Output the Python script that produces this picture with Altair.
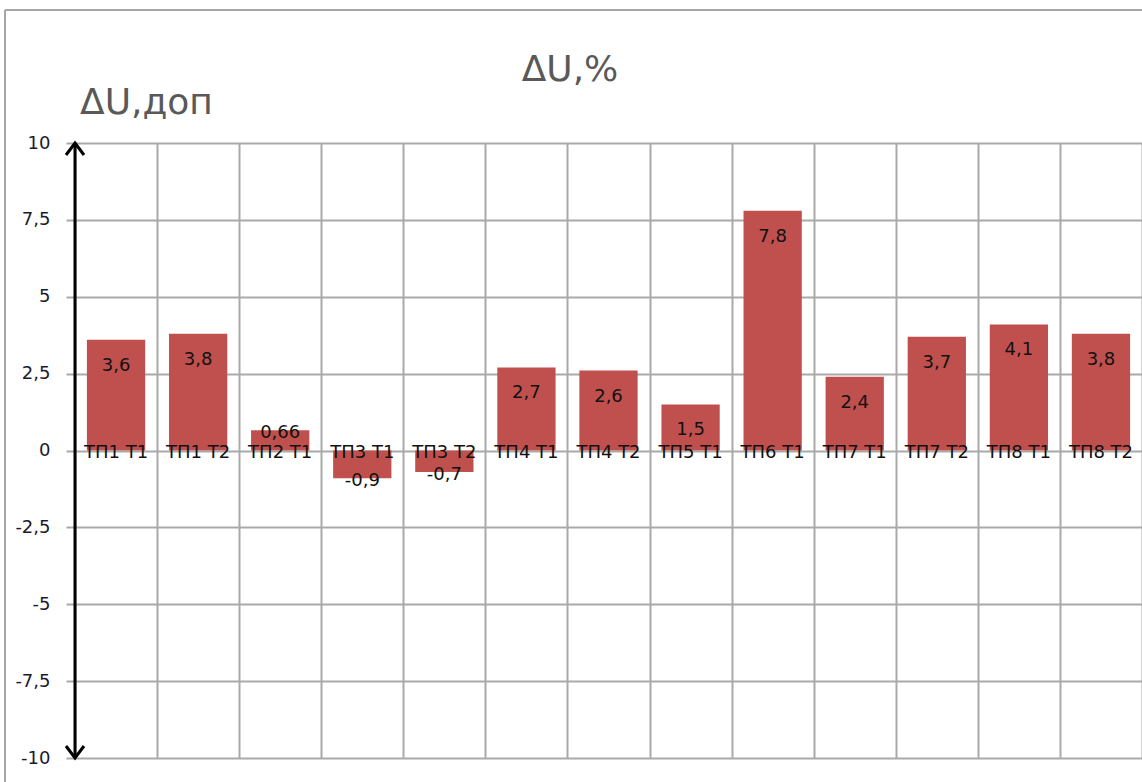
import altair as alt
import pandas as pd

# Voltage deviation per transformer, %
categories = ["ТП1 Т1", "ТП1 Т2", "ТП2 Т1", "ТП3 Т1", "ТП3 Т2", "ТП4 Т1", "ТП4 Т2",
              "ТП5 Т1", "ТП6 Т1", "ТП7 Т1", "ТП7 Т2", "ТП8 Т1", "ТП8 Т2"]
values = [3.6, 3.8, 0.66, -0.9, -0.7, 2.7, 2.6, 1.5, 7.8, 2.4, 3.7, 4.1, 3.8]
value_labels = ["3,6", "3,8", "0,66", "-0,9", "-0,7", "2,7", "2,6", "1,5", "7,8",
                "2,4", "3,7", "4,1", "3,8"]
y_ticks = [-10, -7.5, -5, -2.5, 0, 2.5, 5, 7.5, 10]
arrow_ends = [-10, 10]

W, H = 1067, 615
FONT = "DejaVu Sans"
GRID = "#a9a9a9"
BAR = "#C0504D"

df = pd.DataFrame({"cat": categories, "value": values, "label": value_labels})
one = pd.DataFrame({"k": [0]})
ends = pd.DataFrame({"v": arrow_ends})

x_enc = alt.X("cat:N", sort=categories,
              scale=alt.Scale(paddingInner=0, paddingOuter=0),
              axis=alt.Axis(title=None, labels=False, ticks=False, domain=False,
                            grid=True, tickBand="extent", gridColor=GRID, gridWidth=2))
y_scale = alt.Scale(domain=[-10, 10], nice=False, zero=False)

bars = alt.Chart(df).mark_bar(color=BAR, width=alt.RelativeBandSize(0.71)).encode(
    x=x_enc,
    y=alt.Y("value:Q", scale=y_scale,
            axis=alt.Axis(title=None, values=y_ticks, domain=False, grid=True,
                          gridColor=GRID, gridWidth=2, tickColor=GRID, tickWidth=2,
                          tickSize=9, labelPadding=16, labelFontSize=18,
                          labelFont=FONT, labelColor="#1a1a2e",
                          labelExpr="replace(toString(datum.value), '.', ',')")),
)

# Value labels: inside the top of tall bars, at the bar end for short ones
tall_labels = alt.Chart(df).transform_filter("abs(datum.value) >= 1").mark_text(
    font=FONT, fontSize=18, color="#111111", baseline="middle", dy=26
).encode(x=alt.X("cat:N", sort=categories), y=alt.Y("value:Q", scale=y_scale), text="label:N")

short_labels = alt.Chart(df).transform_filter("abs(datum.value) < 1").mark_text(
    font=FONT, fontSize=18, color="#111111", baseline="middle", dy=3
).encode(x=alt.X("cat:N", sort=categories), y=alt.Y("value:Q", scale=y_scale), text="label:N")

# Category names sit on the zero line
cat_labels = alt.Chart(df).mark_text(
    font=FONT, fontSize=18, color="#111111", baseline="middle", dy=2
).encode(x=alt.X("cat:N", sort=categories), y=alt.Y(datum=0, scale=y_scale), text="cat:N")

# Double-headed arrow along the value axis
shaft = alt.Chart(one).mark_rule(color="black", strokeWidth=3).encode(
    x=alt.value(0), y=alt.Y(datum=-10, scale=y_scale), y2=alt.Y2(datum=10)
)
heads = alt.Chart(ends).transform_calculate(
    shape="datum.v > 0 ? 'M-0.75,1L0,0L0.75,1' : 'M-0.75,-1L0,0L0.75,-1'"
).mark_point(filled=False, color="black", strokeWidth=3, size=576, opacity=1).encode(
    x=alt.value(0), y=alt.Y("v:Q", scale=y_scale), shape=alt.Shape("shape:N", scale=None, legend=None)
)

title = alt.Chart(one).mark_text(
    text="ΔU,%", font=FONT, fontSize=36, color="#595959", align="center", baseline="middle"
).encode(x=alt.value(495), y=alt.value(-73))

axis_title = alt.Chart(one).mark_text(
    text="ΔU,доп", font=FONT, fontSize=36, color="#595959", align="left", baseline="middle"
).encode(x=alt.value(5), y=alt.value(-40))

# Frame of the chart area
frame_left = alt.Chart(one).mark_rule(color="#a6a6a6", strokeWidth=2).encode(
    x=alt.value(-70), y=alt.value(-133), y2=alt.value(H + 30)
)
frame_top = alt.Chart(one).mark_rule(color="#a6a6a6", strokeWidth=2).encode(
    x=alt.value(-70), x2=alt.value(W + 5), y=alt.value(-133)
)

chart = alt.layer(
    bars, tall_labels, short_labels, cat_labels, shaft, heads, title, axis_title,
    frame_left, frame_top
).properties(
    width=W, height=H,
    autosize=alt.AutoSizeParams(type="none"),
    padding={"left": 75, "top": 143, "right": 0, "bottom": 24},
    background="white",
).configure_view(stroke=None)

chart.save("out.html", embed_options={"renderer": "svg", "actions": False})
